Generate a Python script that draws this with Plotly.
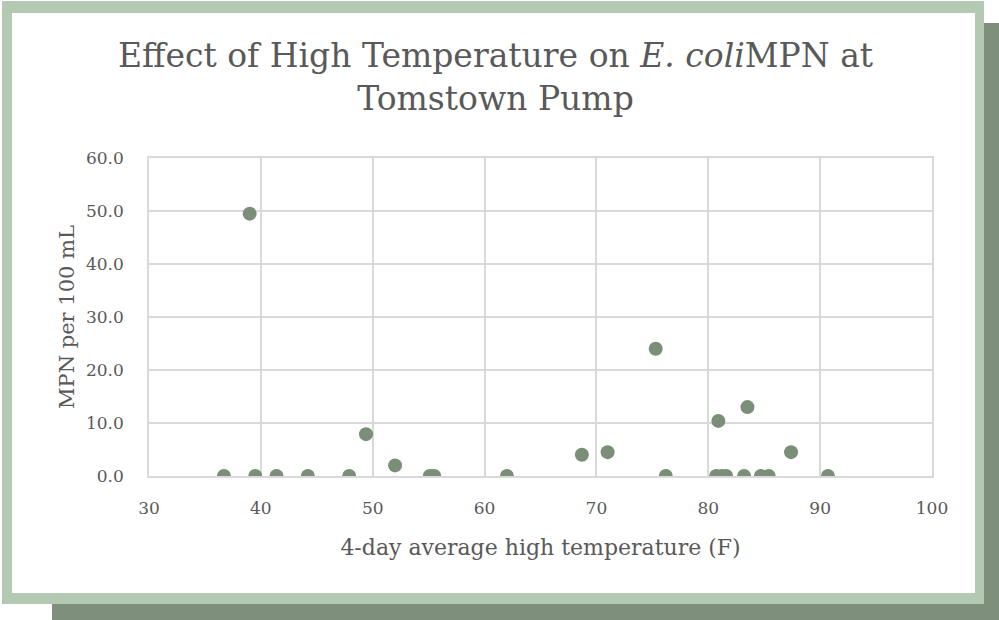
import plotly.graph_objects as go

# Data
temp_f = [36.7, 39.0, 39.5, 41.4, 44.2, 47.9, 49.4, 52.0, 55.1, 55.5, 62.0,
          68.7, 71.0, 75.3, 76.2, 80.9, 80.7, 81.2, 81.6, 83.5, 83.2, 84.7,
          85.4, 87.4, 90.7]
mpn = [0.0, 49.5, 0.0, 0.0, 0.0, 0.0, 7.9, 2.0, 0.0, 0.0, 0.0,
       4.0, 4.5, 24.0, 0.0, 10.4, 0.0, 0.0, 0.0, 13.0, 0.0, 0.0,
       0.0, 4.5, 0.0]
x_ticks = [30, 40, 50, 60, 70, 80, 90, 100]
y_ticks = [0, 10, 20, 30, 40, 50, 60]
y_tick_text = [f"{v:.1f}" for v in y_ticks]

W, H = 999, 620
L, R, T, B = 149, 932, 158, 476
FONT = "DejaVu Serif"
GREY = "#595959"
GRID = "#d9d9d9"


def px(x):
    return (x - L) / (R - L)


def py(y):
    return (B - y) / (B - T)


fig = go.Figure(go.Scatter(
    x=temp_f, y=mpn, mode="markers",
    marker=dict(size=14, color="#7a8e78"),
    hoverinfo="x+y",
))

shapes = []
for (x0, y0, x1, y1, c) in [
    (52, 23, 999, 620, "#7e8f7c"),
    (2, 1, 984, 604, "#b4c9b2"),
    (12, 13, 975, 593, "#ffffff"),
]:
    shapes.append(dict(type="rect", xref="paper", yref="paper", layer="below",
                       x0=px(x0), x1=px(x1), y0=py(y1), y1=py(y0),
                       fillcolor=c, line=dict(width=0)))

fig.update_layout(
    width=W, height=H,
    margin=dict(l=L, r=W - R, t=T, b=H - B, pad=0),
    paper_bgcolor="white",
    plot_bgcolor="rgba(0,0,0,0)",
    showlegend=False,
    shapes=shapes,
    font=dict(family=FONT, color=GREY),
    title=dict(
        text="Effect of High Temperature on <i>E. coli</i>MPN at<br>Tomstown Pump",
        x=0.496, xanchor="center", xref="container",
        y=1 - 67 / H, yanchor="middle", yref="container",
        font=dict(family=FONT, size=33, color=GREY),
    ),
    xaxis=dict(
        range=[30, 100], tickvals=x_ticks, ticktext=[str(v) for v in x_ticks],
        showgrid=True, gridcolor=GRID, gridwidth=1.5,
        showline=True, linecolor=GRID, linewidth=1.5, mirror=True,
        zeroline=False, ticks="", ticklabelstandoff=16,
        tickfont=dict(family=FONT, size=17, color=GREY),
        title=dict(text="4-day average high temperature (F)",
                   font=dict(family=FONT, size=22, color=GREY), standoff=22),
    ),
    yaxis=dict(
        range=[0, 60], tickvals=y_ticks, ticktext=y_tick_text,
        showgrid=True, gridcolor=GRID, gridwidth=1.5,
        showline=True, linecolor=GRID, linewidth=1.5, mirror=True,
        zeroline=False, ticks="", ticklabelstandoff=20,
        tickfont=dict(family=FONT, size=17, color=GREY),
        title=dict(text="MPN per 100 mL",
                   font=dict(family=FONT, size=21, color=GREY), standoff=6),
    ),
)

fig.write_html(
    "out.html",
    config={"displayModeBar": False},
    post_script="document.body.style.margin='0';document.body.style.padding='0';",
)
